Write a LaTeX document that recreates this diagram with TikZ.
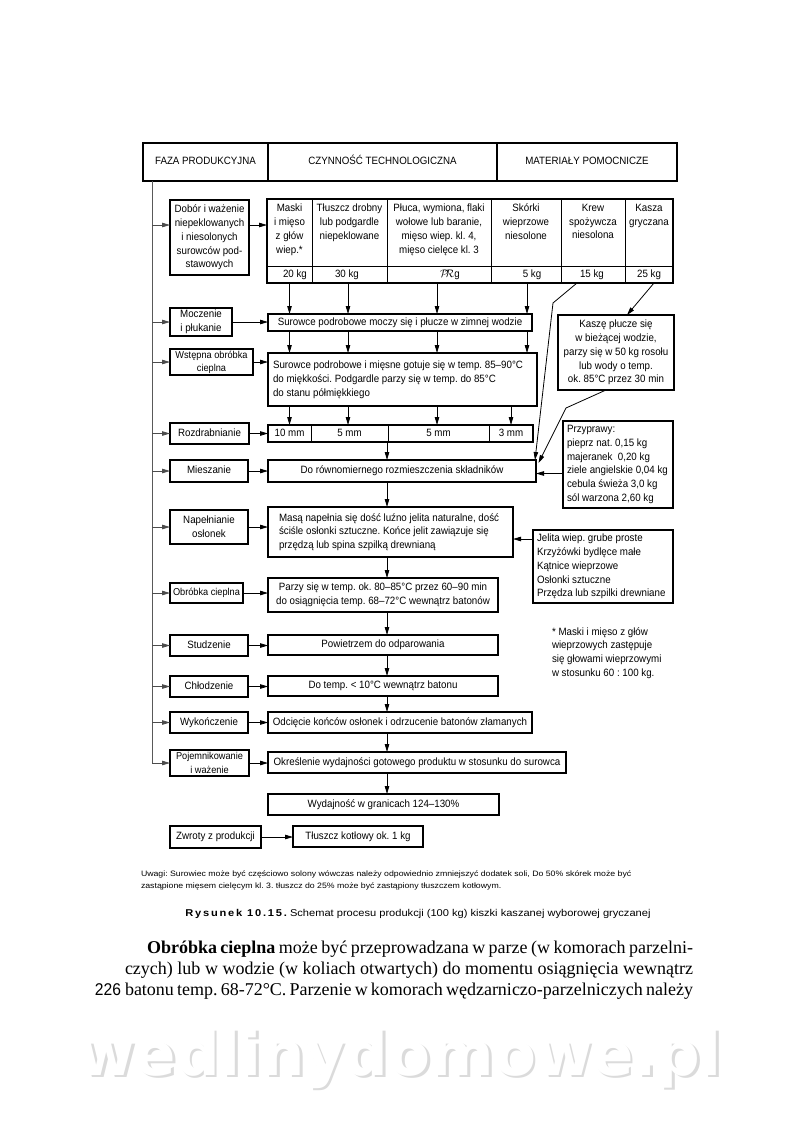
\documentclass[tikz,border=0pt]{standalone}
\usepackage{fontspec}
\setmainfont[FakeStretch=0.92]{Liberation Sans}
\newfontfamily\seriffont{Liberation Serif}
\newfontfamily\notefont[FakeStretch=1.12]{Liberation Sans}
\newfontfamily\wmfont{DejaVu Sans}
\usetikzlibrary{arrows.meta}
\newcommand\bx[7][]{\node[box,#1,anchor=north west,minimum width={#5pt-#3pt},minimum height={#6pt-#4pt}] (#2) at (#3,#4) {#7};}
\newcommand\wmtext{wedlinydomowe.pl}
\begin{document}
\frenchspacing
\begin{tikzpicture}[x=1pt,y=-1pt,
  every node/.style={font=\fontsize{10.6}{13.8}\selectfont, inner sep=0pt, outer sep=0pt},
  box/.style={draw, line width=1.25pt, rectangle, align=center},
  one/.style={text height=7.6pt, text depth=2.2pt},
  small/.style={font=\fontsize{10}{13.2}\selectfont},
  txt/.style={align=left, anchor=west},
  arr/.style={-{Triangle[length=8pt,width=4.5pt]}, line width=0.8pt},
  trunk/.style={line width=1pt, draw=black!65},
  divider/.style={line width=0.7pt}]
\useasboundingbox (0,0) rectangle (800,1141);
\fill[white] (0,0) rectangle (800,1141);

% watermark (white letters with a soft grey shadow)
\node[font=\wmfont\bfseries\fontsize{61}{61}\selectfont] (wm) at (400,1060)
  {\rlap{\hspace{2.5pt}\raisebox{-2.5pt}{\color{black!14}\wmtext}}\color{white}\wmtext};

% header
\bx[one]{h1}{143}{143}{268}{181}{FAZA PRODUKCYJNA}
\bx[one]{h2}{268}{143}{497}{181}{CZYNNOŚĆ TECHNOLOGICZNA}
\bx[one]{h3}{497}{143}{677}{181}{MATERIAŁY POMOCNICZE}

% trunk
\coordinate (trTop) at (152,181);
\coordinate (trBot) at (152,763);
\coordinate (cx) at (387,0);
\coordinate (c1) at (289.5,0);
\coordinate (c2) at (348,0);
\coordinate (c3) at (437,0);
\coordinate (c4) at (527,0);
\coordinate (c4b) at (511,0);

% left phase boxes
\bx{dobL}{170}{200}{249}{275}{Dobór i ważenie\\niepeklowanych\\i niesolonych\\surowców pod-\\stawowych}
\bx{mocL}{170}{308}{232}{336}{Moczenie\\i płukanie}
\bx[small]{wstL}{170}{349}{253}{375}{Wstępna obróbka\\cieplna}
\bx[one]{rozL}{170}{423}{249}{444}{Rozdrabnianie}
\bx[one]{mieL}{170}{460}{248}{482}{Mieszanie}
\bx{napL}{170}{510}{248}{544}{Napełnianie\\osłonek}
\bx[one,small]{obrL}{170}{583}{243}{603}{Obróbka cieplna}
\bx[one]{stuL}{170}{635}{248}{656}{Studzenie}
\bx[one]{chlL}{170}{676}{248}{697}{Chłodzenie}
\bx[one]{wykL}{170}{712}{248}{733}{Wykończenie}
\bx[small]{pojL}{170}{750}{249}{776}{Pojemnikowanie\\i ważenie}
\bx[one]{zwrL}{170}{826}{261}{848}{Zwroty z produkcji}

% raw materials table
\bx{tab}{267}{199}{673}{283}{}
\draw[divider] (tab.west |- 0,266) -- (tab.east |- 0,266);
\foreach \x in {312,387,491,561,625} \draw[divider] (\x,199) -- (\x,283);
\node[anchor=north, align=center] (t1) at (289.5,204) {Maski\\i mięso\\z głów\\wiep.*};
\node[anchor=north, align=center] (t2) at (349.5,204) {Tłuszcz drobny\\lub podgardle\\niepeklowane};
\node[anchor=north, align=center] (t3) at (439,204) {Płuca, wymiona, flaki\\wołowe lub baranie,\\mięso wiep. kl. 4,\\mięso cielęce kl. 3};
\node[anchor=north, align=center] (t4) at (526,204) {Skórki\\wieprzowe\\niesolone};
\node[anchor=north, align=center] (t5) at (593,204) {Krew\\spożywcza\\niesolona};
\node[anchor=north, align=center] (t6) at (649,204) {Kasza\\gryczana};
\node[one] (k1) at (295,274.5) {20 kg};
\node[one] (k2) at (347,274.5) {30 kg};
\node[one] (k3) at (450,274.5) {$\mathcal{P}\!\!\mathcal{R}$g};
\node[one] (k4) at (532,274.5) {5 kg};
\node[one] (k5) at (592,274.5) {15 kg};
\node[one] (k6) at (649,274.5) {25 kg};

% main process boxes
\bx[one]{mocM}{268}{314}{532}{331}{Surowce podrobowe moczy się i płucze w zimnej wodzie}
\bx{gotM}{268}{353}{537}{406}{}
\node[txt] (gotT) at ([xshift=5pt]gotM.west) {Surowce podrobowe i mięsne gotuje się w temp. 85–90°C\\do miękkości. Podgardle parzy się w temp. do 85°C\\do stanu półmiękkiego};
\bx{mmM}{268}{425}{533}{442}{}
\foreach \x in {311,388,489} \draw[divider] (\x,425) -- (\x,442);
\node[one] (mm1) at (289.5,433.5) {10 mm};
\node[one] (mm2) at (349.5,433.5) {5 mm};
\node[one] (mm3) at (438.5,433.5) {5 mm};
\node[one] (mm4) at (511,433.5) {3 mm};
\bx[one]{mieM}{268}{460}{536}{482}{Do równomiernego rozmieszczenia składników}
\bx{napM}{268}{507}{513}{557}{}
\node[txt] (napT) at ([xshift=11pt]napM.west) {Masą napełnia się dość luźno jelita naturalne, dość\\ściśle osłonki sztuczne. Końce jelit zawiązuje się\\przędzą lub spina szpilką drewnianą};
\bx{obrM}{268}{578}{498}{612}{Parzy się w temp. ok. 80–85°C przez 60–90 min\\do osiągnięcia temp. 68–72°C wewnątrz batonów}
\bx[one]{stuM}{268}{635}{498}{655}{Powietrzem do odparowania}
\bx[one]{chlM}{268}{676}{498}{696}{Do temp. < 10°C wewnątrz batonu}
\bx[one]{wykM}{268}{712}{532}{733}{Odcięcie końców osłonek i odrzucenie batonów złamanych}
\bx[one]{okrM}{268}{752}{566}{773}{Określenie wydajności gotowego produktu w stosunku do surowca}
\bx[one]{wydM}{268}{794}{499}{815}{Wydajność w granicach 124–130\%}
\bx[one]{tkM}{293}{826}{423}{847}{Tłuszcz kotłowy ok. 1 kg}

% auxiliary materials
\bx{kasz}{558}{315}{674}{390}{Kaszę płucze się\\w bieżącej wodzie,\\parzy się w 50 kg rosołu\\lub wody o temp.\\ok. 85°C przez 30 min}
\bx{przy}{563}{421}{673}{508}{}
\node[txt] (przyT) at ([xshift=4pt]przy.west) {Przyprawy:\\pieprz nat. 0,15 kg\\majeranek\ \ 0,20 kg\\ziele angielskie 0,04 kg\\cebula świeża 3,0 kg\\sól warzona 2,60 kg};
\bx{jel}{533}{530}{673}{603}{}
\node[txt] (jelT) at ([xshift=4pt]jel.west) {Jelita wiep. grube proste\\Krzyżówki bydlęce małe\\Kątnice wieprzowe\\Osłonki sztuczne\\Przędza lub szpilki drewniane};
\node[txt] (fn) at (552,653) {* Maski i mięso z głów\\wieprzowych zastępuje\\się głowami wieprzowymi\\w stosunku 60 : 100 kg.};

% trunk and branches
\draw[trunk] (trTop) -- (trBot);
\draw[arr, draw=black!70] (trBot) -- (trBot -| pojL.west);
\draw[arr, draw=black!70] ([yshift=12.5pt]dobL.west -| trTop) -- ([yshift=12.5pt]dobL.west);
\foreach \n in {mocL,wstL,rozL,mieL,napL,obrL,stuL,chlL,wykL}
  \draw[arr, draw=black!70] (\n.west -| trTop) -- (\n.west);

% phase -> operation
\draw[arr] ([yshift=12.5pt]dobL.east) -- ([yshift=12.5pt]dobL.east -| tab.west);
\foreach \a/\b in {mocL/mocM,wstL/gotM,rozL/mmM,mieL/mieM,napL/napM,obrL/obrM,stuL/stuM,chlL/chlM,wykL/wykM,pojL/okrM,zwrL/tkM}
  \draw[arr] (\a.east) -- (\a.east -| \b.west);

% columns from table
\foreach \c in {c1,c2,c3,c4} {
  \draw[arr] (tab.south -| \c) -- (mocM.north -| \c);
  \draw[arr] (mocM.south -| \c) -- (gotM.north -| \c);
}
\foreach \c in {c1,c2,c3,c4b}
  \draw[arr] (gotM.south -| \c) -- (mmM.north -| \c);

% central column
\draw[arr] (mmM.south -| cx) -- (mieM.north -| cx);
\draw[arr] (mieM.south -| cx) -- (napM.north -| cx);
\draw[arr] (napM.south -| cx) -- (obrM.north -| cx);
\draw[arr] (obrM.south -| cx) -- (stuM.north -| cx);
\draw[arr] (stuM.south -| cx) -- (chlM.north -| cx);
\draw[arr] (chlM.south -| cx) -- (wykM.north -| cx);
\draw[arr] (wykM.south -| cx) -- (okrM.north -| cx);
\draw[arr] (okrM.south -| cx) -- (wydM.north -| cx);

% side connectors
\coordinate (krA) at (577,283);
\coordinate (krB) at (553,303);
\draw[arr] (krA) -- (krB) -- ([xshift=-1pt]mieM.north east);
\coordinate (kaA) at (654,283);
\draw[arr] (kaA) -- ([xshift=11pt]kasz.north);
\coordinate (ksB) at (566,408);
\draw[arr] ([xshift=-10pt]kasz.south) -- (ksB) -- ([xshift=2.5pt,yshift=-3pt]mieM.north east);
\draw[arr] ([yshift=-9pt]przy.west) -- ([yshift=-9pt]przy.west -| mieM.east);
\draw[arr] ([yshift=27.5pt]jel.west) -- ([yshift=27.5pt]jel.west -| napM.east);

% notes
\node[anchor=base west, font=\notefont\fontsize{7.8}{10}\selectfont] (uw1) at (141,876) {Uwagi: Surowiec może być częściowo solony wówczas należy odpowiednio zmniejszyć dodatek soli, Do 50\% skórek może być};
\node[anchor=base west, font=\notefont\fontsize{7.8}{10}\selectfont] (uw2) at (141,888) {zastąpione mięsem cielęcym kl. 3. tłuszcz do 25\% może być zastąpiony tłuszczem kotłowym.};
\node[anchor=base, font=\notefont\fontsize{9.9}{10}\selectfont] (cap) at (418,916) {{\bfseries\addfontfeatures{LetterSpace=18}Rysunek 10.15.} Schemat procesu produkcji (100 kg) kiszki kaszanej wyborowej gryczanej};

% body text
\node[anchor=base west, font=\seriffont\fontsize{18}{21}\selectfont] (b1) at (147,953) {\makebox[546pt][s]{\textbf{Obróbka cieplna} może być przeprowadzana w parze (w komorach parzelni-}};
\node[anchor=base west, font=\seriffont\fontsize{18}{21}\selectfont] (b2) at (125,974) {\makebox[568pt][s]{czych) lub w wodzie (w koliach otwartych) do momentu osiągnięcia wewnątrz}};
\node[anchor=base west, font=\seriffont\fontsize{18}{21}\selectfont] (b3) at (125,995) {\makebox[568pt][s]{batonu temp. 68-72°C. Parzenie w komorach wędzarniczo-parzelniczych należy}};
\node[anchor=base east, font=\fontsize{17}{21}\selectfont] (pg) at (121,995) {226};
\end{tikzpicture}
\end{document}
